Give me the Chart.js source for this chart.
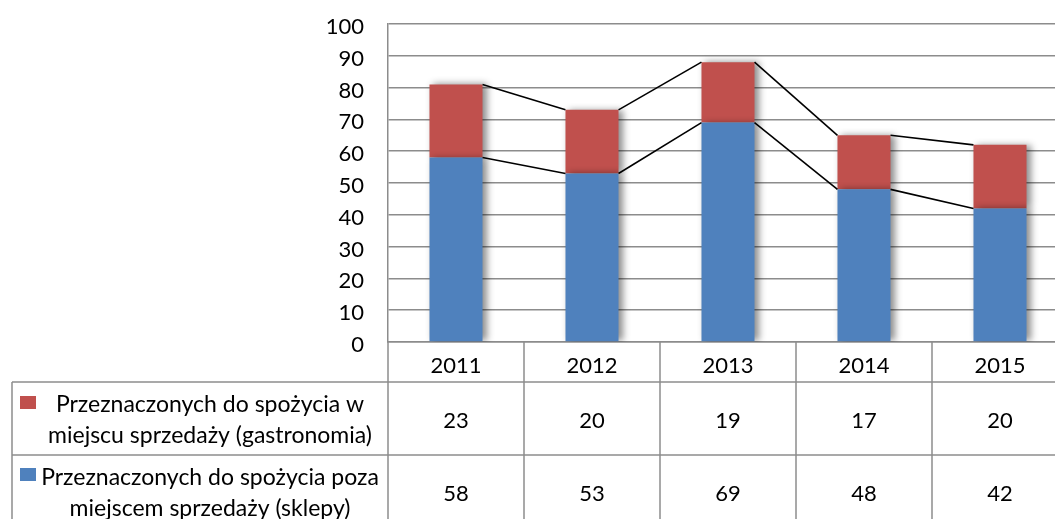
<!DOCTYPE html>
<html>
<head>
<meta charset="utf-8">
<script src="https://cdn.jsdelivr.net/npm/chart.js@4/dist/chart.umd.min.js"></script>
<style>
  body { margin: 0; background: #fff; overflow: hidden; }
  #pudelko { position: relative; width: 1070px; height: 530px; }
</style>
</head>
<body>
<div id="pudelko"><canvas id="wykres"></canvas></div>
<script>
// Dane z wykresu
const lata = ['2011', '2012', '2013', '2014', '2015'];
const gastronomia = [23, 20, 19, 17, 20];   // czerwona seria (góra słupka)
const sklepy = [58, 53, 69, 48, 42];        // niebieska seria (dół słupka)
const nazwaGastronomia = ['Przeznaczonych do spożycia w', 'miejscu sprzedaży (gastronomia)'];
const nazwaSklepy = ['Przeznaczonych do spożycia poza', 'miejscem sprzedaży (sklepy)'];

const kolorNiebieski = '#4F81BD';
const kolorCzerwony = '#C0504D';
const kolorSiatki = '#8C8C8C';
const czcionka = 'Lato, "Open Sans", sans-serif';

// Cień słupków i linie serii (jak w Excelu)
const cienIlinie = {
    id: 'cienIlinie',
    beforeDatasetsDraw(chart) {
        const ctx = chart.ctx;
        ctx.save();
        ctx.shadowColor = 'rgba(0,0,0,0.45)';
        ctx.shadowBlur = 7;
        ctx.shadowOffsetX = 4;
        ctx.shadowOffsetY = 0;
    },
    afterDatasetsDraw(chart) {
        const ctx = chart.ctx;
        ctx.restore();
        ctx.save();
        ctx.strokeStyle = '#000';
        ctx.lineWidth = 1.6;
        chart.data.datasets.forEach((ds, d) => {
            const meta = chart.getDatasetMeta(d);
            for (let i = 0; i < meta.data.length - 1; i++) {
                const a = meta.data[i], b = meta.data[i + 1];
                ctx.beginPath();
                ctx.moveTo(a.x + a.width / 2, a.y);
                ctx.lineTo(b.x - b.width / 2, b.y);
                ctx.stroke();
            }
        });
        ctx.restore();
    }
};

// Tabela danych pod wykresem
const tabelaDanych = {
    id: 'tabelaDanych',
    afterDraw(chart) {
        const ctx = chart.ctx;
        const x = chart.scales.x;
        const szer = x.width / lata.length;
        const lewo = x.left;
        const gora = x.bottom;
        const wys = 73;
        const lewaKrawedz = 12;
        const wiersze = [
            { nazwa: nazwaGastronomia, dane: gastronomia, kolor: kolorCzerwony },
            { nazwa: nazwaSklepy, dane: sklepy, kolor: kolorNiebieski }
        ];

        ctx.save();
        ctx.strokeStyle = kolorSiatki;
        ctx.lineWidth = 1.5;
        // linie poziome
        for (let r = 0; r <= wiersze.length; r++) {
            const y = gora + r * wys;
            ctx.beginPath();
            ctx.moveTo(lewaKrawedz, y);
            ctx.lineTo(x.right, y);
            ctx.stroke();
        }
        // linie pionowe
        ctx.beginPath();
        ctx.moveTo(lewaKrawedz, gora);
        ctx.lineTo(lewaKrawedz, gora + wiersze.length * wys);
        ctx.stroke();
        for (let k = 0; k <= lata.length; k++) {
            const px = lewo + k * szer;
            ctx.beginPath();
            ctx.moveTo(px, x.top);
            ctx.lineTo(px, gora + wiersze.length * wys);
            ctx.stroke();
        }
        // prawa krawędź obszaru wykresu
        ctx.beginPath();
        ctx.moveTo(x.right, chart.chartArea.top);
        ctx.lineTo(x.right, x.top);
        ctx.stroke();

        ctx.fillStyle = '#000';
        ctx.textAlign = 'center';
        wiersze.forEach((w, r) => {
            const gornaY = gora + r * wys;
            // kwadracik legendy
            ctx.fillStyle = w.kolor;
            ctx.fillRect(20, gornaY + 14 - r, 16, 13);
            ctx.fillStyle = '#000';
            // nazwa serii
            ctx.font = '23px ' + czcionka;
            ctx.textBaseline = 'alphabetic';
            ctx.fillText(w.nazwa[0], 210, gornaY + 30);
            ctx.fillText(w.nazwa[1], 210, gornaY + 61);
            // wartości
            ctx.font = '22px ' + czcionka;
            ctx.textBaseline = 'middle';
            w.dane.forEach((v, i) => {
                ctx.fillText(String(v), x.getPixelForValue(i), gornaY + wys / 2 + 2);
            });
        });
        ctx.restore();
    }
};

new Chart(document.getElementById('wykres'), {
    type: 'bar',
    data: {
        labels: lata,
        datasets: [
            { label: nazwaSklepy.join(' '), data: sklepy, backgroundColor: kolorNiebieski,
              barPercentage: 0.39, categoryPercentage: 1 },
            { label: nazwaGastronomia.join(' '), data: gastronomia, backgroundColor: kolorCzerwony,
              barPercentage: 0.39, categoryPercentage: 1 }
        ]
    },
    options: {
        responsive: true,
        maintainAspectRatio: false,
        animation: false,
        layout: { padding: { left: 0, top: 24, right: 2, bottom: 148 } },
        plugins: { legend: { display: false }, tooltip: { enabled: false } },
        scales: {
            x: {
                stacked: true,
                afterFit(scale) { scale.height = 40; scale.paddingLeft = 0; scale.paddingRight = 0; },
                grid: { display: true, drawOnChartArea: false, drawTicks: false },
                border: { color: kolorSiatki, width: 1.5 },
                ticks: { color: '#000', font: { family: czcionka, size: 22 }, padding: 11 }
            },
            y: {
                stacked: true,
                min: 0,
                max: 100,
                afterFit(scale) { scale.width = 388; scale.paddingTop = 0; scale.paddingBottom = 0; },
                grid: { color: kolorSiatki, lineWidth: 1.5, drawTicks: false },
                border: { color: kolorSiatki, width: 1.5 },
                ticks: { stepSize: 10, color: '#000', font: { family: czcionka, size: 22 },
                         padding: 24, labelOffset: 3 }
            }
        }
    },
    plugins: [cienIlinie, tabelaDanych]
});
</script>
</body>
</html>
